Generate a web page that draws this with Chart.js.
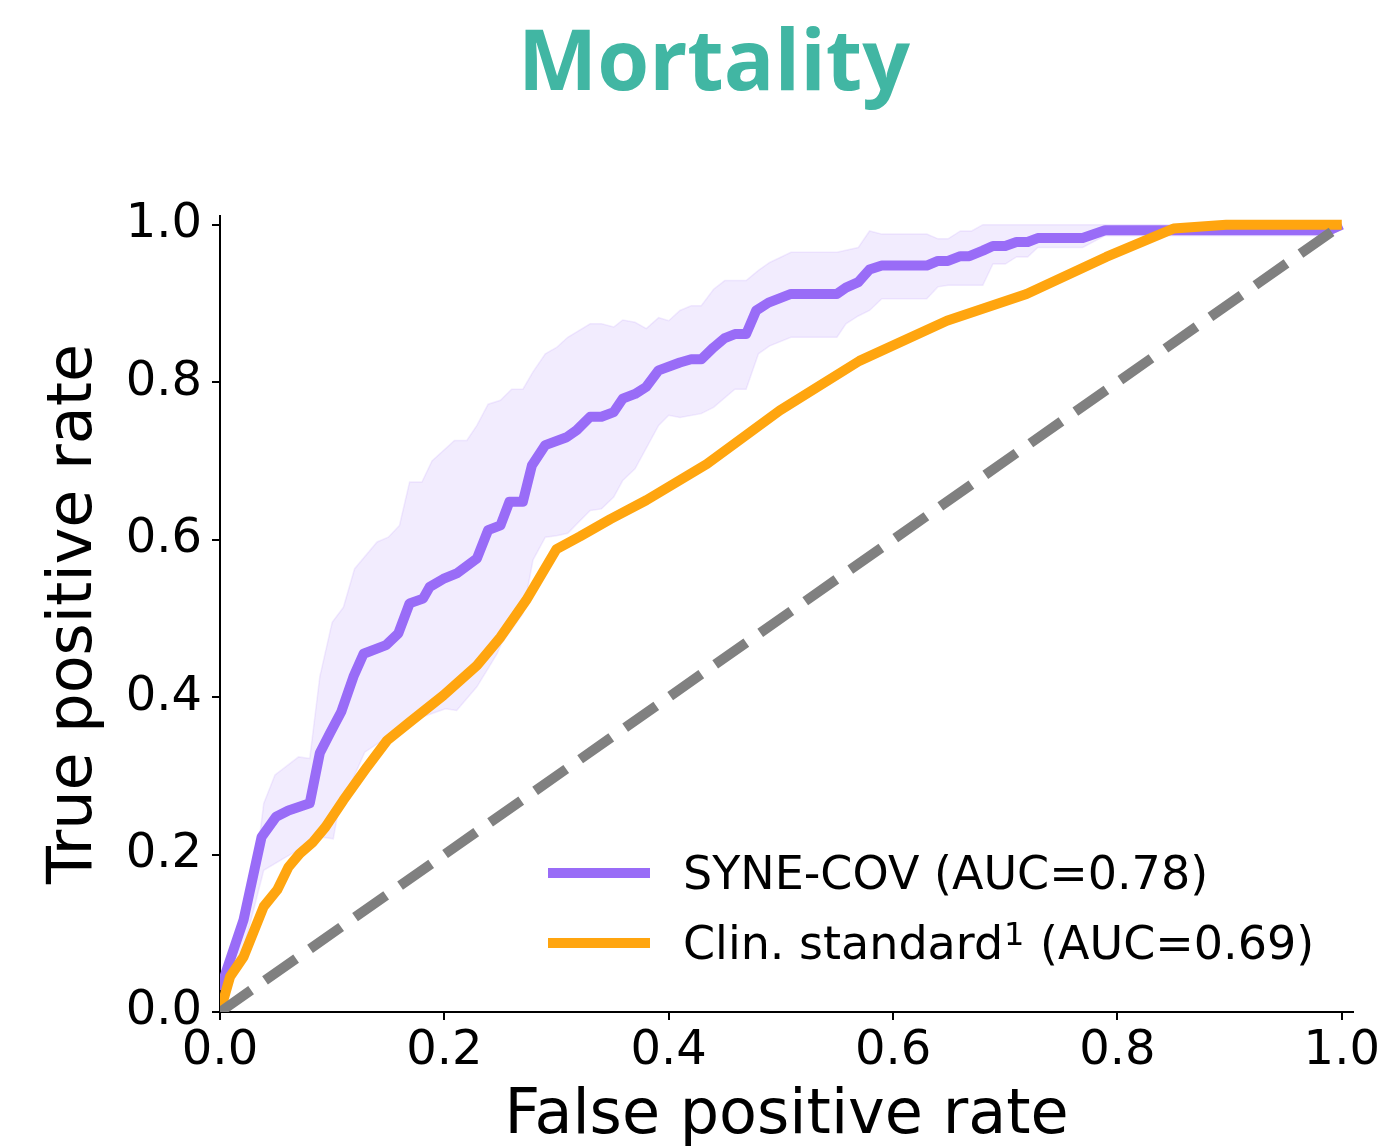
<!DOCTYPE html>
<html lang="en">

<head>
    <meta charset="UTF-8">
    <title>Mortality ROC</title>
    <script src="https://cdn.jsdelivr.net/npm/chart.js"></script>
    <style>
        body { margin: 0; background: #fff; }
        .wrap { width: 1393px; height: 1146px; position: relative; }
    </style>
</head>

<body>
    <div class="wrap">
        <canvas id="chart"></canvas>
    </div>

    <script>
        // Curva media SYNE-COV
        const synFpr = [0, .021, .037, .050, .061, .080, .089, .098, .108, .119, .128, .148, .159, .169, .181, .187, .199, .211, .229, .239, .250, .258, .270, .278, .290, .309, .318, .330, .340, .351, .359, .370, .380, .391, .410, .420, .429, .440, .450, .459, .469, .478, .489, .509, .550, .558, .569, .579, .590, .630, .640, .649, .660, .668, .680, .689, .700, .710, .720, .729, .769, .789, .989, 1.0];
        const synTpr = [.028, .117, .222, .248, .256, .265, .329, .354, .381, .426, .455, .466, .481, .519, .525, .540, .550, .557, .576, .612, .618, .648, .648, .694, .720, .730, .739, .756, .756, .762, .779, .785, .794, .815, .825, .829, .829, .844, .856, .861, .861, .891, .901, .912, .912, .920, .927, .943, .948, .948, .954, .954, .960, .960, .967, .973, .973, .978, .978, .983, .983, .993, .993, 1.0];

        // Banda superior
        const upperFpr = [0, .015, .030, .039, .049, .070, .080, .089, .100, .110, .120, .140, .150, .160, .169, .180, .189, .209, .220, .229, .239, .250, .260, .270, .279, .290, .300, .310, .330, .340, .351, .359, .370, .380, .391, .400, .410, .420, .429, .440, .450, .469, .480, .490, .509, .550, .569, .579, .590, .630, .640, .649, .660, .670, .680, 1.0];
        const upperTpr = [.037, .096, .163, .265, .301, .324, .322, .426, .495, .514, .563, .597, .603, .618, .673, .673, .700, .726, .726, .745, .772, .777, .791, .791, .813, .836, .844, .857, .874, .874, .870, .879, .876, .868, .882, .878, .891, .897, .897, .918, .929, .929, .942, .952, .965, .965, .971, .992, .988, .988, .982, .982, .992, .992, 1.0, 1.0];

        // Banda inferior
        const lowerFpr = [0, .021, .039, .059, .070, .080, .092, .101, .105, .129, .150, .181, .201, .211, .229, .238, .247, .251, .270, .279, .290, .300, .310, .330, .340, .351, .359, .370, .391, .400, .410, .429, .440, .459, .469, .480, .490, .509, .550, .558, .569, .579, .590, .630, .640, .649, .680, .689, .700, .710, .720, .729, .769, .789, .989, 1.0];
        const lowerTpr = [0, .080, .180, .197, .206, .218, .222, .220, .252, .330, .350, .375, .385, .383, .413, .434, .455, .468, .506, .574, .603, .605, .608, .637, .639, .654, .675, .690, .745, .758, .755, .760, .768, .791, .791, .836, .846, .857, .857, .874, .884, .891, .906, .906, .921, .923, .923, .950, .950, .959, .959, .971, .971, .986, .986, .995];

        // Estándar clínico
        const clinFpr = [0, .009, .021, .039, .051, .061, .071, .083, .094, .110, .131, .149, .169, .199, .229, .250, .273, .300, .321, .348, .380, .434, .499, .570, .648, .719, .790, .850, .897, 1.0];
        const clinTpr = [0, .045, .070, .134, .155, .184, .201, .216, .235, .269, .311, .345, .368, .402, .440, .476, .523, .588, .604, .626, .650, .696, .764, .827, .878, .912, .959, .995, 1.0, 1.0];

        // Diagonal
        const diagFpr = [0, 1];
        const diagTpr = [0, 1];

        const xTicks = [0, 0.2, 0.4, 0.6, 0.8, 1.0];
        const yTicks = [0, 0.2, 0.4, 0.6, 0.8, 1.0];

        const labels = ['SYNE-COV (AUC=0.78)', 'Clin. standard\u00B9 (AUC=0.69)'];

        const PURPLE = '#996CF7';
        const ORANGE = '#FFA50F';
        const FONT = 'DejaVu Sans';

        function pts(xs, ys) {
            return xs.map((x, i) => ({ x: x, y: ys[i] }));
        }

        // Título y leyenda dibujados a mano
        const extras = {
            id: 'extras',
            afterDraw(chart) {
                const ctx = chart.ctx;
                ctx.save();
                ctx.fillStyle = '#41B6A3';
                ctx.font = 'bold 84px "Open Sans"';
                ctx.textAlign = 'center';
                ctx.textBaseline = 'alphabetic';
                ctx.fillText('Mortality', 714, 90);

                const rows = [
                    { color: chart.data.datasets[1].borderColor, text: chart.data.datasets[1].label, y: 873 },
                    { color: chart.data.datasets[0].borderColor, text: chart.data.datasets[0].label, y: 943 }
                ];
                rows.forEach(r => {
                    ctx.strokeStyle = r.color;
                    ctx.lineWidth = 10;
                    ctx.beginPath();
                    ctx.moveTo(548, r.y);
                    ctx.lineTo(650, r.y);
                    ctx.stroke();
                    ctx.fillStyle = '#000';
                    ctx.textAlign = 'left';
                    ctx.textBaseline = 'alphabetic';
                    const base = r.y + 16;
                    const parts = r.text.split('\u00B9');
                    let x = 683;
                    ctx.font = '46px "' + FONT + '"';
                    ctx.fillText(parts[0], x, base);
                    if (parts.length > 1) {
                        x += ctx.measureText(parts[0]).width + 1;
                        ctx.font = '32px "' + FONT + '"';
                        ctx.fillText('1', x, base - 14);
                        x += ctx.measureText('1').width + 1;
                        ctx.font = '46px "' + FONT + '"';
                        ctx.fillText(parts[1], x, base);
                    }
                });
                ctx.restore();
            }
        };

        const ctx = document.getElementById('chart').getContext('2d');
        const chart = new Chart(ctx, {
            type: 'line',
            data: {
                datasets: [
                    {
                        label: labels[1],
                        data: pts(clinFpr, clinTpr),
                        borderColor: ORANGE,
                        borderWidth: 10,
                        borderJoinStyle: 'round',
                        pointRadius: 0,
                        tension: 0,
                        fill: false,
                        clip: 0,
                        order: 1
                    },
                    {
                        label: labels[0],
                        data: pts(synFpr, synTpr),
                        borderColor: PURPLE,
                        borderWidth: 10,
                        borderJoinStyle: 'round',
                        pointRadius: 0,
                        tension: 0,
                        fill: false,
                        clip: 0,
                        order: 2
                    },
                    {
                        label: 'upper',
                        data: pts(upperFpr, upperTpr),
                        borderColor: 'rgba(153,108,247,0.12)',
                        backgroundColor: 'rgba(153,108,247,0.13)',
                        borderWidth: 1.5,
                        pointRadius: 0,
                        tension: 0,
                        fill: '+1',
                        clip: 0,
                        order: 3
                    },
                    {
                        label: 'lower',
                        data: pts(lowerFpr, lowerTpr),
                        borderColor: 'rgba(153,108,247,0.12)',
                        borderWidth: 1.5,
                        pointRadius: 0,
                        tension: 0,
                        fill: false,
                        clip: 0,
                        order: 4
                    },
                    {
                        label: 'chance',
                        data: pts(diagFpr, diagTpr),
                        borderColor: '#808080',
                        borderWidth: 10,
                        borderDash: [38, 17],
                        pointRadius: 0,
                        tension: 0,
                        fill: false,
                        clip: 0,
                        order: 0
                    }
                ]
            },
            options: {
                responsive: true,
                maintainAspectRatio: false,
                animation: false,
                layout: {
                    padding: { left: 0, top: 216, right: 40, bottom: 0 }
                },
                plugins: {
                    legend: { display: false },
                    title: { display: false },
                    tooltip: { enabled: false }
                },
                scales: {
                    x: {
                        type: 'linear',
                        min: 0,
                        max: 1.01,
                        afterBuildTicks: s => { s.ticks = xTicks.map(v => ({ value: v })); },
                        afterFit: s => { s.height = 134; s.paddingLeft = 0; s.paddingRight = 0; },
                        ticks: {
                            font: { family: FONT, size: 48 },
                            color: '#000',
                            padding: 3,
                            maxRotation: 0,
                            autoSkip: false,
                            callback: v => v.toFixed(1)
                        },
                        grid: { drawOnChartArea: false, tickLength: 8, color: '#000', lineWidth: 2 },
                        border: { color: '#000', width: 2 },
                        title: {
                            display: true,
                            text: 'False positive rate',
                            color: '#000',
                            font: { family: FONT, size: 62, lineHeight: 0.95 },
                            padding: { top: 0, bottom: 0 }
                        }
                    },
                    y: {
                        type: 'linear',
                        min: 0,
                        max: 1.011,
                        afterBuildTicks: s => { s.ticks = yTicks.map(v => ({ value: v })); },
                        afterFit: s => { s.width = 220; s.paddingTop = 0; s.paddingBottom = 0; },
                        ticks: {
                            font: { family: FONT, size: 48 },
                            color: '#000',
                            padding: 10,
                            autoSkip: false,
                            callback: v => v.toFixed(1)
                        },
                        grid: { drawOnChartArea: false, tickLength: 8, color: '#000', lineWidth: 2 },
                        border: { color: '#000', width: 2 },
                        title: {
                            display: true,
                            text: 'True positive rate',
                            color: '#000',
                            font: { family: FONT, size: 62, lineHeight: 1 },
                            padding: { top: 44, bottom: 0 }
                        }
                    }
                }
            },
            plugins: [extras]
        });
    </script>
</body>

</html>
